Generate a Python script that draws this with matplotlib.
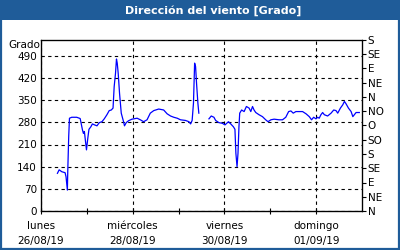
import matplotlib.pyplot as plt
import numpy as np
from matplotlib.patches import Rectangle

# hours since lunes 26/08/19 00:00, wind direction in degrees (None = gap)
hours = [8.6, 9.5, 10.9, 12.6, 13.1, 13.5, 13.8, 14.0, 14.5, 14.9, 16.1, 18.7,
         20.5, 21.0, 21.7, 22.2, 22.7, 23.5, 23.8, 24.5, 25.1, 26.1, 26.9, 28.0,
         29.3, 30.5, 31.9, 33.1, 34.5, 35.7, 36.8, 37.7, 38.3, 39.0, 39.5, 39.9,
         40.4, 41.1, 42.0, 43.2, 43.7, 44.6, 45.8, 47.6, 50.3, 52.0, 53.7, 55.5,
         57.2, 59.0, 61.6, 64.2, 66.0, 67.8, 69.5, 71.3, 73.0, 75.6, 77.4, 78.3,
         79.1, 79.8, 80.4, 80.9, 81.4, 82.1, 82.6, 85.0,
         87.9, 89.1, 90.5, 91.4, 93.1, 94.9, 96.3, 97.2, 98.1, 99.3, 100.7, 101.5,
         102.0, 102.6, 103.1, 103.6, 104.0, 105.0, 106.3, 107.5, 108.9, 109.8,
         110.7, 111.5, 112.4, 114.1, 115.9, 117.6, 118.8, 120.3, 122.0, 124.6,
         126.4, 128.1, 129.6, 130.8, 132.0, 133.4, 136.9, 138.7, 140.4, 141.6,
         142.7, 143.9, 144.8, 145.6, 146.5, 147.4, 148.3, 150.0, 151.8, 153.2,
         154.4, 155.3, 156.7, 157.9, 158.8, 159.7, 160.9, 162.3, 163.2, 164.0,
         164.9, 166.6]
direction = [119, 130, 124, 121, 108, 82, 66, 124, 235, 293, 296, 296,
             292, 277, 256, 245, 251, 209, 193, 230, 258, 266, 275, 272,
             269, 279, 282, 291, 304, 317, 319, 325, 393, 435, 480, 467,
             435, 372, 309, 282, 269, 279, 285, 290, 293, 288, 282, 288,
             309, 317, 322, 319, 307, 300, 296, 293, 288, 286, 282, 275,
             286, 341, 467, 456, 404, 341, 309, None,
             291, 300, 296, 286, 279, 277, 272, 277, 282, 275, 266, 258,
             182, 140, 182, 266, 309, 319, 314, 330, 325, 314,
             330, 319, 311, 304, 298, 288, 282, 288, 290, 288,
             288, 296, 314, 316, 309, 314, 314, 307, 298, 288,
             296, 291, 296, 293, 304, 311, 304, 300, 309, 319,
             317, 309, 325, 335, 346, 338, 325, 314, 298, 304,
             311, 311]

left_ticks = [0, 70, 140, 210, 280, 350, 420, 490]
right_labels = ['N', 'NE', 'E', 'SE', 'S', 'SO', 'O', 'NO', 'N', 'NE', 'E', 'SE', 'S']
day_ticks = [0, 48, 96, 144]
day_labels = ['lunes\n26/08/19', 'miércoles\n28/08/19', 'viernes\n30/08/19', 'domingo\n01/09/19']

blue = '#1f5c99'
fs = 7.5

fig = plt.figure(figsize=(4, 2.5), dpi=100)
fig.patch.set_facecolor('white')
# frame and title band
fig.patches.append(Rectangle((0.002, 0.004), 0.996, 0.992, transform=fig.transFigure,
                             fill=False, edgecolor=blue, linewidth=1.6))
fig.patches.append(Rectangle((0, 0.92), 1, 0.08, transform=fig.transFigure,
                             facecolor=blue, edgecolor='none'))
fig.text(0.533, 0.958, 'Dirección del viento [Grado]', color='white', fontsize=8,
         fontweight='bold', ha='center', va='center')

ax = fig.add_axes([0.1025, 0.156, 0.8025, 0.684])
y = np.array([np.nan if v is None else v for v in direction], dtype=float)
ax.plot(hours, y, color='#0000ff', linewidth=0.9)

ax.set_xlim(0, 168)
ax.set_ylim(0, 540)
ax.set_yticks(left_ticks)
ax.set_yticklabels([str(t) for t in left_ticks], fontsize=fs)
ax.tick_params(axis='y', length=0, pad=3)
ax.set_xticks(day_ticks)
ax.set_xticklabels(day_labels, fontsize=fs, linespacing=1.6)
ax.set_xticks(np.arange(24, 168, 48), minor=True)
ax.tick_params(axis='x', which='both', direction='inout', length=4, width=0.8, pad=5)
ax.grid(True, axis='both', which='major', linestyle=(0, (3, 3)), color='black', linewidth=0.8)
for s in ax.spines.values():
    s.set_linewidth(0.9)

ax2 = ax.twinx()
ax2.set_ylim(0, 540)
ax2.set_yticks(np.arange(0, 541, 45))
ax2.set_yticklabels(right_labels, fontsize=fs)
ax2.tick_params(axis='y', direction='out', length=3, width=0.8, pad=1)

fig.text(0.02, 0.82, 'Grado', fontsize=fs, ha='left', va='center')

fig.savefig('out.png', dpi=100)
